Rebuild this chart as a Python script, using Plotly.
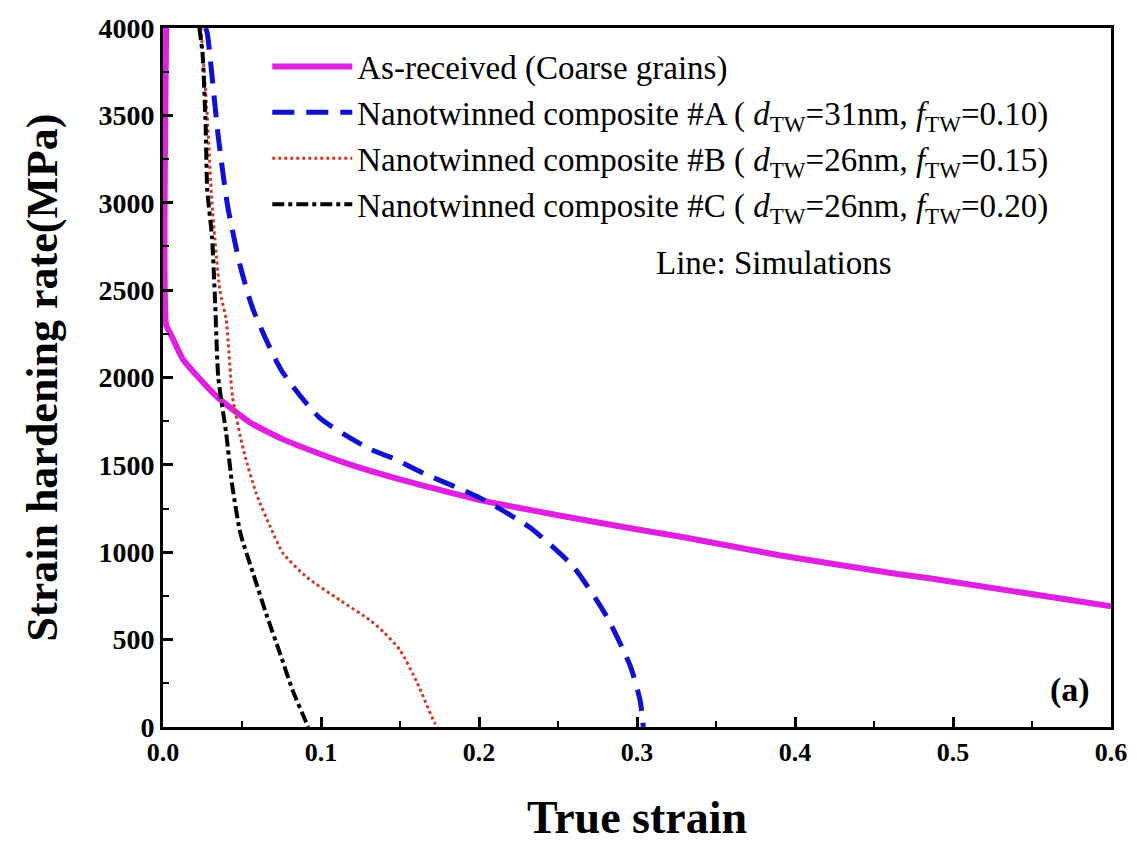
import plotly.graph_objects as go

# As-received (coarse grains)
x_as = [0.002, 0.002, 0.0044, 0.0127, 0.034, 0.055, 0.076, 0.097, 0.118, 0.15, 0.2, 0.25, 0.296, 0.327, 0.39, 0.466, 0.485, 0.6]
y_as = [4000, 2300, 2257, 2103, 1891, 1743, 1646, 1571, 1503, 1417, 1300, 1212, 1137, 1090, 983, 874, 851, 691]

# Composite A
x_a = [0.027, 0.028, 0.035, 0.041, 0.049, 0.057, 0.075, 0.099, 0.131, 0.145, 0.165, 0.2, 0.232, 0.26, 0.281, 0.296, 0.302, 0.304]
y_a = [4000, 3971, 3377, 2977, 2634, 2390, 2040, 1771, 1590, 1540, 1451, 1314, 1143, 914, 629, 343, 150, 0]

# Composite B
x_b = [0.024, 0.028, 0.031, 0.036, 0.040, 0.044, 0.051, 0.059, 0.068, 0.076, 0.091, 0.112, 0.131, 0.14, 0.15, 0.161, 0.172, 0.174]
y_b = [4000, 3500, 3000, 2500, 2331, 1891, 1583, 1337, 1143, 994, 857, 726, 611, 540, 440, 251, 23, 0]

# Composite C
x_c = [0.023, 0.025, 0.027, 0.028, 0.031, 0.033, 0.035, 0.040, 0.044, 0.049, 0.057, 0.066, 0.074, 0.082, 0.090, 0.092]
y_c = [4000, 3857, 3434, 3074, 2806, 2429, 2000, 1680, 1371, 1109, 880, 629, 423, 211, 40, 0]

names = [
    "As-received (Coarse grains)",
    "Nanotwinned composite #A ( <i>d</i><sub>TW</sub>=31nm, <i>f</i><sub>TW</sub>=0.10)",
    "Nanotwinned composite #B ( <i>d</i><sub>TW</sub>=26nm, <i>f</i><sub>TW</sub>=0.15)",
    "Nanotwinned composite #C ( <i>d</i><sub>TW</sub>=26nm, <i>f</i><sub>TW</sub>=0.20)",
]

serif = "Liberation Serif, Times New Roman, serif"

fig = go.Figure()
fig.add_trace(go.Scatter(x=x_as, y=y_as, mode="lines", name=names[0],
                         line=dict(color="#e020e0", width=6, shape="spline", smoothing=0.5)))
fig.add_trace(go.Scatter(x=x_a, y=y_a, mode="lines", name=names[1],
                         line=dict(color="#1010d0", width=5, dash="22px,12px", shape="spline", smoothing=0.6)))
fig.add_trace(go.Scatter(x=x_b, y=y_b, mode="lines", name=names[2],
                         line=dict(color="#d03a28", width=3, dash="dot", shape="spline", smoothing=0.6)))
fig.add_trace(go.Scatter(x=x_c, y=y_c, mode="lines", name=names[3],
                         line=dict(color="#000000", width=4, dash="dashdot", shape="spline", smoothing=0.6)))

fig.update_layout(
    width=1137, height=843,
    margin=dict(l=163, r=26, t=28, b=116),
    paper_bgcolor="white", plot_bgcolor="white",
    font=dict(family=serif, color="black"),
    showlegend=True,
    legend=dict(x=0.11, y=0.985, xanchor="left", yanchor="top",
                bgcolor="rgba(0,0,0,0)", font=dict(family=serif, size=33),
                itemwidth=80, tracegroupgap=0),
    annotations=[
        dict(text="Line: Simulations", x=0.387, y=2657, xref="x", yref="y",
             showarrow=False, font=dict(family=serif, size=33), xanchor="center"),
        dict(text="<b>(a)</b>", x=0.574, y=211, xref="x", yref="y",
             showarrow=False, font=dict(family=serif, size=34)),
    ],
)

fig.update_xaxes(range=[0, 0.6], dtick=0.1, tickformat=".1f", automargin=False,
                 showline=True, linewidth=3, linecolor="black", mirror=True,
                 ticks="inside", ticklen=10, tickwidth=3, tickcolor="black",
                 minor=dict(dtick=0.05, ticks="inside", ticklen=6, tickwidth=2, tickcolor="black"),
                 showgrid=False, zeroline=False,
                 tickfont=dict(family=serif, size=26, color="black", weight="bold"),
                 title=dict(text="<b>True strain</b>", font=dict(family=serif, size=46), standoff=40))
fig.update_yaxes(range=[0, 4000], dtick=500, automargin=False,
                 showline=True, linewidth=3, linecolor="black", mirror=True,
                 ticks="inside", ticklen=10, tickwidth=3, tickcolor="black",
                 minor=dict(dtick=250, ticks="inside", ticklen=6, tickwidth=2, tickcolor="black"),
                 showgrid=False, zeroline=False,
                 tickfont=dict(family=serif, size=28, color="black", weight="bold"),
                 title=dict(text="<b>Strain hardening rate(MPa)</b>", font=dict(family=serif, size=44), standoff=28))

fig.write_html("out.html")
